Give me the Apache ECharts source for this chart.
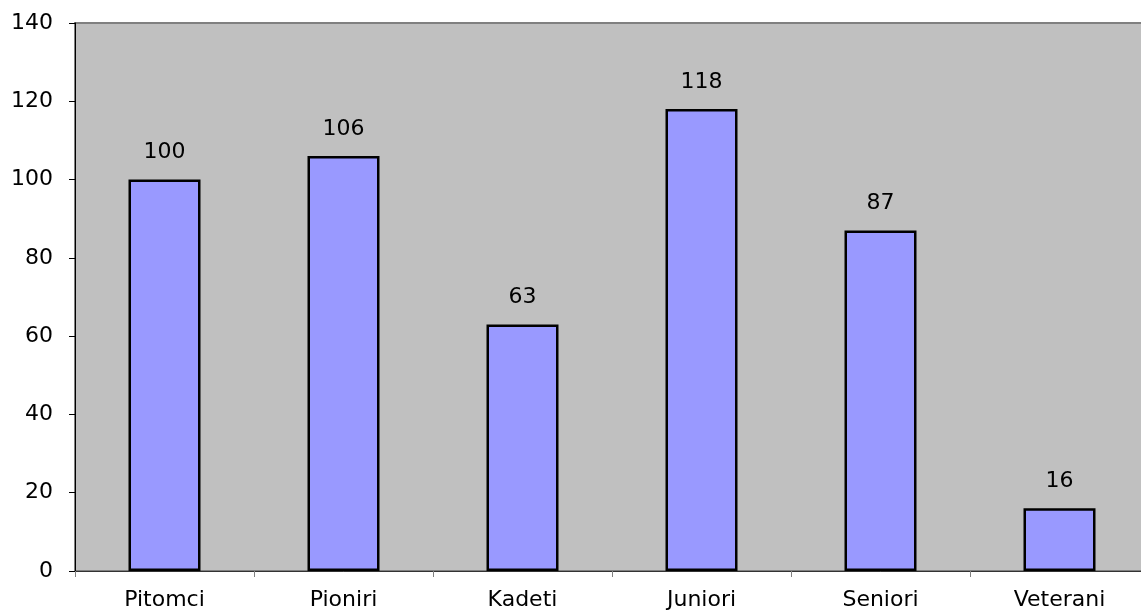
<!DOCTYPE html>
<html>
<head>
<meta charset="utf-8">
<script src="https://cdn.jsdelivr.net/npm/echarts@6/dist/echarts.min.js"></script>
<style>html,body{margin:0;padding:0;background:#fff;overflow:hidden;width:1141px;height:612px;}#c{width:1160px;height:612px;}</style>
</head>
<body>
<div id="c"></div>
<script>
var categories = ['Pitomci', 'Pioniri', 'Kadeti', 'Juniori', 'Seniori', 'Veterani'];
var values = [100, 106, 63, 118, 87, 16];
var yTicks = [0, 20, 40, 60, 80, 100, 120, 140];

var chart = echarts.init(document.getElementById('c'), null, {renderer: 'canvas'});
var font = 'DejaVu Sans';
chart.setOption({
  animation: false,
  backgroundColor: '#ffffff',
  grid: {
    left: 75, top: 23, width: 1074, height: 548,
    show: true, backgroundColor: '#C0C0C0', borderColor: '#808080', borderWidth: 2
  },
  xAxis: {
    type: 'category',
    data: categories,
    axisLine: {show: true, lineStyle: {color: '#333333', width: 1}},
    axisTick: {show: true, inside: false, length: 6, alignWithLabel: false, lineStyle: {color: '#808080', width: 1}},
    axisLabel: {color: '#000', fontFamily: font, fontSize: 22, margin: 18}
  },
  yAxis: {
    type: 'value',
    min: yTicks[0], max: yTicks[yTicks.length - 1], interval: 20,
    splitLine: {show: false},
    axisLine: {show: true, lineStyle: {color: '#000000', width: 1}},
    axisTick: {show: true, inside: false, length: 6, lineStyle: {color: '#000', width: 1}},
    axisLabel: {color: '#000', fontFamily: font, fontSize: 22, margin: 22}
  },
  series: [{
    type: 'bar',
    data: values,
    barWidth: 72,
    itemStyle: {color: '#9999FF', borderColor: '#000000', borderWidth: 2.5},
    label: {show: true, position: 'top', distance: 16, color: '#000', fontFamily: font, fontSize: 22}
  }]
});
</script>
</body>
</html>
